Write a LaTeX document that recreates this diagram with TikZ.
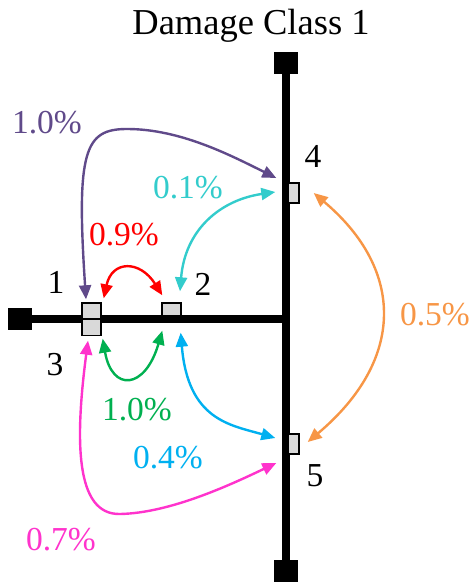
\documentclass[tikz,border=0pt]{standalone}
\usepackage{fontspec}
\setmainfont{Liberation Serif}
\usetikzlibrary{arrows.meta,calc}
\definecolor{cpurple}{HTML}{604A8A}
\definecolor{cteal}{HTML}{33CCCC}
\definecolor{cred}{HTML}{FF0000}
\definecolor{corange}{HTML}{F79646}
\definecolor{cgreen}{HTML}{00B050}
\definecolor{cblue}{HTML}{00B0F0}
\definecolor{cmag}{HTML}{FF33CC}
\definecolor{boxgray}{HTML}{D9D9D9}
\begin{document}
\begin{tikzpicture}[x=1pt,y=-1pt,
  term/.style={fill=black,inner sep=0,minimum width=24pt,minimum height=22pt},
  bus/.style={line width=8pt},
  dmg/.style={draw=black,fill=boxgray,line width=1.4pt,inner sep=0},
  conn/.style={line width=2.4pt,{Triangle[length=14pt,width=12pt]}-{Triangle[length=14pt,width=12pt]}},
  lab/.style={anchor=base,inner sep=0,font=\fontsize{33.5}{40}\selectfont},
  ttl/.style={anchor=base,inner sep=0,font=\fontsize{36.5}{44}\selectfont}]
\useasboundingbox (0,0) rectangle (476,586);
% title
\node[ttl] (title) at (251,35) {Damage Class 1};
% bus lines
\node[term] (tL) at (20,319) {};
\node[term] (tT) at (286,63) {};
\node[term] (tB) at (286,571) {};
\coordinate (J) at (286,319);
\draw[bus] (tL) -- (J);
\draw[bus] (tT) -- (tB);
% damage locations
\node[dmg,minimum width=19pt,minimum height=16pt] (n1) at (91.5,311) {};
\node[dmg,minimum width=19pt,minimum height=16pt] (n3) at (91.5,327.5) {};
\node[dmg,minimum width=19pt,minimum height=13pt] (n2) at (171.5,309.5) {};
\node[dmg,minimum width=11pt,minimum height=20pt] (n4) at (293.5,193) {};
\node[dmg,minimum width=11pt,minimum height=20pt] (n5) at (293.5,444) {};
% number labels
\node[lab] (l1) at (56,293) {1};
\node[lab] (l2) at (203,295) {2};
\node[lab] (l3) at (55,375) {3};
\node[lab] (l4) at (313,167) {4};
\node[lab] (l5) at (315,486) {5};
% connectors
\draw[conn,cpurple] ($(n1.north)+(-5.5,-3)$) .. controls (76,150) and (85,129) .. (127,129)
  .. controls (180,129) and (230,155) .. ($(n4.west)+(-11,-15)$);
\draw[conn,cteal] ($(n2.north)+(8.5,-11)$) .. controls (185,230) and (220,200) .. ($(n4.west)+(-12,-1)$);
\draw[conn,cred] ($(n1.north east)+(2,-4)$) .. controls (112,260) and (140,260) .. ($(n2.north west)+(1,-7)$);
\draw[conn,cgreen] ($(n3.south east)+(1,2.5)$) .. controls (112,392) and (145,390) .. ($(n2.south west)+(1,14)$);
\draw[conn,cblue] ($(n2.south east)+(-1,16)$) .. controls (188,420) and (230,425) .. ($(n5.west)+(-12,-6)$);
\draw[conn,cmag] ($(n3.south)+(-3.5,4.5)$) .. controls (75,440) and (75,515) .. (120,514)
  .. controls (170,513) and (230,485) .. ($(n5.west)+(-11,19)$);
\draw[conn,corange] ($(n4.east)+(14,0)$) .. controls (405,270) and (405,360) .. ($(n5.east)+(8,-2)$);
% percentage labels
\node[lab,text=cpurple] (p1) at (47,133) {1.0\%};
\node[lab,text=cteal] (p2) at (188,198) {0.1\%};
\node[lab,text=cred] (p3) at (124,245) {0.9\%};
\node[lab,text=corange] (p4) at (435,325) {0.5\%};
\node[lab,text=cgreen] (p5) at (137,420) {1.0\%};
\node[lab,text=cblue] (p6) at (168,468) {0.4\%};
\node[lab,text=cmag] (p7) at (61,550) {0.7\%};
\end{tikzpicture}
\end{document}
